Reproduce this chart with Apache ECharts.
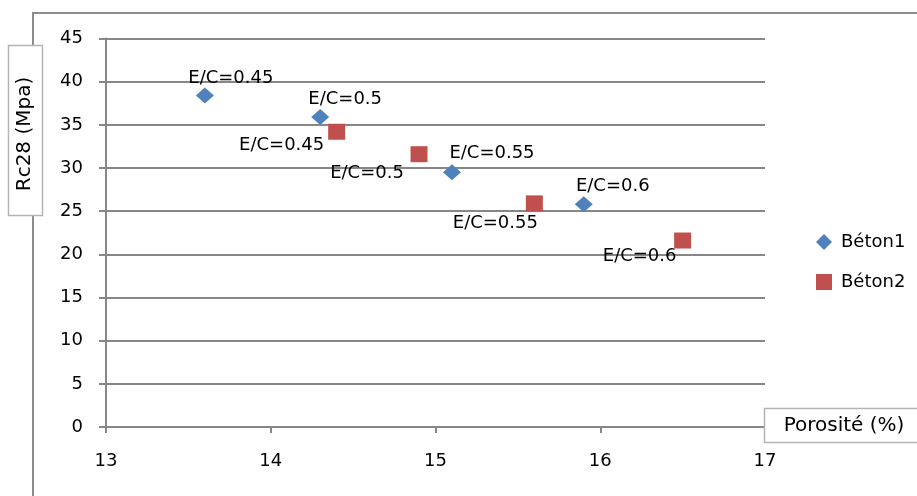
<!DOCTYPE html>
<html>
<head>
<meta charset="utf-8">
<script src="https://cdn.jsdelivr.net/npm/echarts@6/dist/echarts.min.js"></script>
<style>
html,body{margin:0;padding:0;background:#fff;}
#c{width:917px;height:496px;}
</style>
</head>
<body>
<div id="c"></div>
<script>
// ---- data ----
const seriesNames = ['Béton1', 'Béton2'];
const ratioLabels = ['0.45', '0.5', '0.55', '0.6'];
const beton1Porosity = [13.6, 14.3, 15.1, 15.9];
const beton1Rc28 = [38.4, 35.9, 29.5, 25.8];
const beton2Porosity = [14.4, 14.9, 15.6, 16.5];
const beton2Rc28 = [34.2, 31.6, 25.9, 21.6];
const xTicks = { min: 13, max: 17, interval: 1 };
const yTicks = { min: 0, max: 45, interval: 5 };

// ---- label placement (style, not data) ----
const labelOffsets1 = [[26, -17], [25, -18], [40, -19], [29, -18]];
const labelOffsets2 = [[-55, 14], [-52, 19], [-39, 20], [-43, 16]];

const FONT = 'DejaVu Sans';
const GRID = '#878787';

function build(xs, ys, offsets) {
  return xs.map((x, i) => ({
    value: [x, ys[i]],
    name: 'E/C=' + ratioLabels[i],
    label: { offset: offsets[i] }
  }));
}

const chart = echarts.init(document.getElementById('c'), null, { renderer: 'canvas' });
chart.setOption({
  animation: false,
  backgroundColor: '#fff',
  grid: { left: 106, right: 152, top: 38.5, bottom: 69, containLabel: false },
  xAxis: {
    type: 'value', min: xTicks.min, max: xTicks.max, interval: xTicks.interval,
    axisLine: { show: true, lineStyle: { color: GRID, width: 2 } },
    axisTick: { show: true, length: 6, lineStyle: { color: GRID, width: 2 } },
    splitLine: { show: false },
    axisLabel: { margin: 25, fontFamily: FONT, fontSize: 18, color: '#000' }
  },
  yAxis: {
    type: 'value', min: yTicks.min, max: yTicks.max, interval: yTicks.interval,
    axisLine: { show: true, lineStyle: { color: GRID, width: 2 } },
    axisTick: { show: true, length: 7, lineStyle: { color: GRID, width: 2 } },
    splitLine: { show: true, lineStyle: { color: GRID, width: 2 } },
    axisLabel: { margin: 23, fontFamily: FONT, fontSize: 18, color: '#000' }
  },
  legend: {
    orient: 'vertical', left: 811, top: 228,
    itemWidth: 16, itemHeight: 16, itemGap: 22,
    itemStyle: { opacity: 1 },
    textStyle: { fontFamily: FONT, fontSize: 18, color: '#000', lineHeight: 18, padding: [0, 0, 0, 4] },
    data: seriesNames
  },
  series: [
    {
      name: seriesNames[0], type: 'scatter', symbol: 'diamond', symbolSize: [18, 16],
      itemStyle: { color: '#4F81BD', opacity: 1 },
      label: { show: true, position: 'inside', formatter: p => p.name,
               fontFamily: FONT, fontSize: 18, color: '#000' },
      data: build(beton1Porosity, beton1Rc28, labelOffsets1)
    },
    {
      name: seriesNames[1], type: 'scatter', symbol: 'rect', symbolSize: [17, 16],
      itemStyle: { color: '#C0504D', opacity: 1 },
      label: { show: true, position: 'inside', formatter: p => p.name,
               fontFamily: FONT, fontSize: 18, color: '#000' },
      data: build(beton2Porosity, beton2Rc28, labelOffsets2)
    }
  ],
  graphic: [
    { type: 'rect', z: -10, silent: true,
      shape: { x: 33, y: 13, width: 1000, height: 1000 },
      style: { fill: 'none', stroke: '#8c8c8c', lineWidth: 2 } },
    { type: 'rect', z: 100, silent: true,
      shape: { x: 8.5, y: 45.5, width: 34, height: 170 },
      style: { fill: '#fff', stroke: '#b4b4b4', lineWidth: 1.5 } },
    { type: 'text', z: 101, silent: true, x: 25, y: 134, rotation: Math.PI / 2,
      style: { text: 'Rc28 (Mpa)', fontFamily: FONT, fontSize: 20, fill: '#000',
               textAlign: 'center', textVerticalAlign: 'middle' } },
    { type: 'rect', z: 100, silent: true,
      shape: { x: 764.5, y: 408.5, width: 170, height: 34 },
      style: { fill: '#fff', stroke: '#b4b4b4', lineWidth: 1.5 } },
    { type: 'text', z: 101, silent: true, x: 844, y: 426,
      style: { text: 'Porosité (%)', fontFamily: FONT, fontSize: 20, fill: '#000',
               textAlign: 'center', textVerticalAlign: 'middle' } }
  ]
});
</script>
</body>
</html>
